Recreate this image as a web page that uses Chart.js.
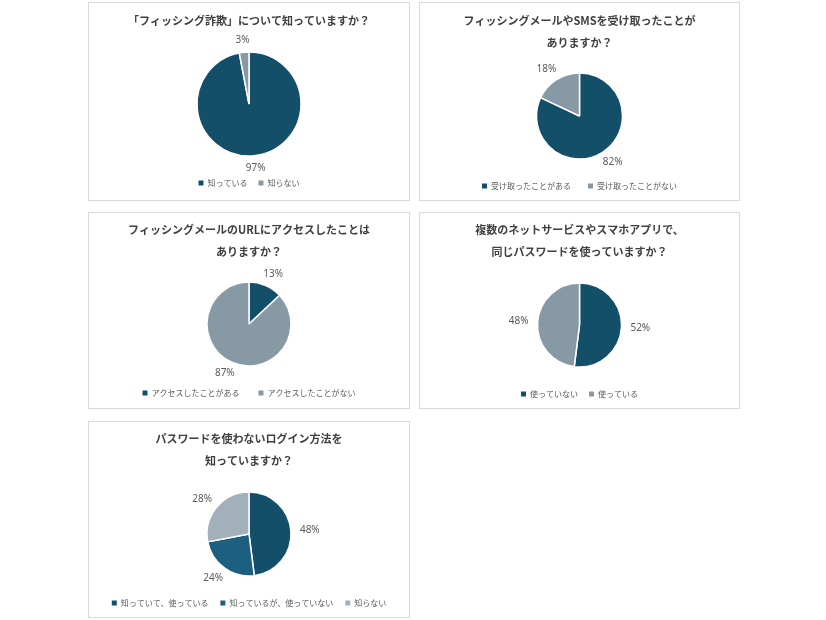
<!DOCTYPE html>
<html lang="ja">
<head>
<meta charset="utf-8">
<script src="https://cdn.jsdelivr.net/npm/chart.js@4/dist/chart.umd.min.js"></script>
<style>
  html,body{margin:0;padding:0;background:#fff;}
  body{width:826px;height:620px;position:relative;overflow:hidden;font-family:"Noto Sans CJK JP","Noto Sans",sans-serif;}
  .box{position:absolute;border:1px solid #d9d9d9;background:#fff;}
  .box canvas{display:block;}
</style>
</head>
<body>
<script>
/* ====================== DATA ====================== */
const q1Title  = ['「フィッシング詐欺」について知っていますか？'];
const q1Labels = ['知っている','知らない'];
const q1Values = [97, 3];

const q2Title  = ['フィッシングメールやSMSを受け取ったことが','ありますか？'];
const q2Labels = ['受け取ったことがある','受け取ったことがない'];
const q2Values = [82, 18];

const q3Title  = ['フィッシングメールのURLにアクセスしたことは','ありますか？'];
const q3Labels = ['アクセスしたことがある','アクセスしたことがない'];
const q3Values = [13, 87];

const q4Title  = ['複数のネットサービスやスマホアプリで、','同じパスワードを使っていますか？'];
const q4Labels = ['使っていない','使っている'];
const q4Values = [52, 48];

const q5Title  = ['パスワードを使わないログイン方法を','知っていますか？'];
const q5Labels = ['知っていて、使っている','知っているが、使っていない','知らない'];
const q5Values = [48, 24, 28];

/* ====================== STYLE ===================== */
const DARK='#134f69', MID='#1c5f80', GREY='#8899a6', LIGHT='#a2b0bb';
const FONT='"Noto Sans CJK JP","Noto Sans",sans-serif';

/* box geometry + chart.js paddings, one per chart */
const boxes = [
  {left:88,  top:2,   w:322, h:199, pt:7, pb:8,  leg:11, lpb:3, r:52},
  {left:419, top:2,   w:321, h:199, pt:7, pb:13, leg:17, lpb:0, r:43},
  {left:88,  top:212, w:322, h:197, pt:6, pb:15, leg:19, lpb:1, r:42},
  {left:419, top:212, w:321, h:197, pt:6, pb:8,  leg:11, lpb:0, r:42},
  {left:88,  top:421, w:322, h:197, pt:6, pb:9,  leg:12, lpb:0, r:42}
];

const charts = [
  {title:q1Title, labels:q1Labels, values:q1Values, colors:[DARK,GREY]},
  {title:q2Title, labels:q2Labels, values:q2Values, colors:[DARK,GREY]},
  {title:q3Title, labels:q3Labels, values:q3Values, colors:[DARK,GREY]},
  {title:q4Title, labels:q4Labels, values:q4Values, colors:[DARK,GREY]},
  {title:q5Title, labels:q5Labels, values:q5Values, colors:[DARK,MID,LIGHT]}
];

/* percent labels outside the slices */
const outsideLabels = {
  id:'outsideLabels',
  afterDatasetsDraw(chart){
    const {ctx} = chart;
    const ds = chart.data.datasets[0];
    ctx.save();
    ctx.font = '10px "Noto Sans",' + FONT;
    ctx.fillStyle = '#595959';
    ctx.textAlign = 'center';
    ctx.textBaseline = 'middle';
    chart.getDatasetMeta(0).data.forEach((arc,i)=>{
      const {x,y,startAngle,endAngle,outerRadius} = arc.getProps(['x','y','startAngle','endAngle','outerRadius'],true);
      const a = (startAngle+endAngle)/2;
      const txt = ds.data[i] + '%';
      const w = ctx.measureText(txt).width;
      const d = outerRadius + 12;
      ctx.fillText(txt, x + Math.cos(a)*d + Math.cos(a)*w*0.35, y + Math.sin(a)*d);
    });
    ctx.restore();
  }
};

const baseLabels = Chart.overrides.doughnut.plugins.legend.labels.generateLabels;

charts.forEach((c,i)=>{
  const b = boxes[i];
  const box = document.createElement('div');
  box.className = 'box';
  Object.assign(box.style,{left:b.left+'px',top:b.top+'px',width:(b.w-2)+'px',height:(b.h-2)+'px'});
  const cv = document.createElement('canvas');
  cv.width = b.w-2; cv.height = b.h-2;
  box.appendChild(cv);
  document.body.appendChild(box);

  new Chart(cv,{
    type:'pie',
    data:{
      labels:c.labels,
      datasets:[{data:c.values, backgroundColor:c.colors, borderColor:'#fff', borderWidth:1.5, radius:b.r}]
    },
    options:{
      responsive:false,
      animation:false,
      layout:{padding:{top:0,left:0,right:0,bottom:b.lpb}},
      plugins:{
        title:{
          display:true, text:c.title, color:'#404040',
          font:{family:FONT, size:11, weight:'bold', lineHeight:2},
          padding:{top:b.pt, bottom:b.pb}
        },
        legend:{
          position:'bottom',
          labels:{
            boxWidth:5, boxHeight:5, padding:b.leg, color:'#595959',
            font:{family:FONT, size:8},
            generateLabels: ch => baseLabels(ch).map(l=>({...l, lineWidth:0}))
          }
        },
        tooltip:{enabled:false}
      }
    },
    plugins:[outsideLabels]
  });
});
</script>
</body>
</html>
